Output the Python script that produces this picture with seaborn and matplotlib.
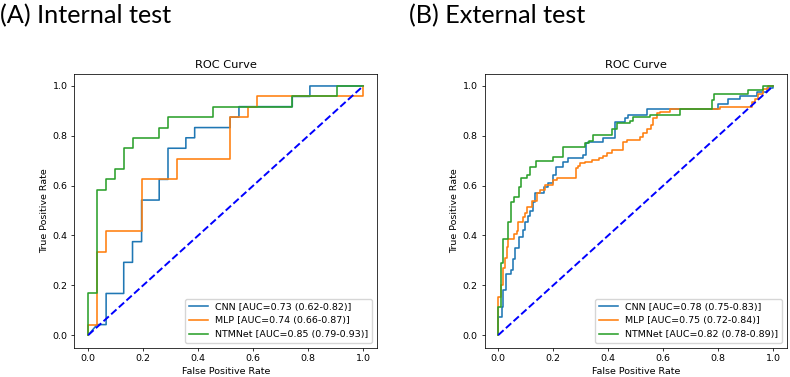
import pandas as pd
import matplotlib
matplotlib.use("Agg")
import matplotlib.pyplot as plt
import seaborn as sns

# internal test ROC vertices
int_cnn_fpr = [0.0, 0.032, 0.065, 0.065, 0.129, 0.129, 0.161, 0.161, 0.194, 0.194, 0.258, 0.258, 0.290, 0.290,
               0.355, 0.355, 0.387, 0.387, 0.516, 0.516, 0.548, 0.548, 0.742, 0.742, 0.806, 0.806, 1.0]
int_cnn_tpr = [0.0, 0.042, 0.042, 0.167, 0.167, 0.292, 0.292, 0.375, 0.375, 0.542, 0.542, 0.625, 0.625, 0.750,
               0.750, 0.792, 0.792, 0.833, 0.833, 0.875, 0.875, 0.917, 0.917, 0.958, 0.958, 1.0, 1.0]
int_mlp_fpr = [0.0, 0.0, 0.032, 0.032, 0.065, 0.065, 0.194, 0.194, 0.323, 0.323, 0.516, 0.516, 0.581, 0.581,
               0.613, 0.613, 1.0, 1.0]
int_mlp_tpr = [0.0, 0.042, 0.042, 0.333, 0.333, 0.417, 0.417, 0.625, 0.625, 0.708, 0.708, 0.875, 0.875, 0.917,
               0.917, 0.958, 0.958, 1.0]
int_ntm_fpr = [0.0, 0.0, 0.032, 0.032, 0.065, 0.065, 0.097, 0.097, 0.129, 0.129, 0.161, 0.161, 0.258, 0.258,
               0.290, 0.290, 0.452, 0.452, 0.742, 0.742, 0.903, 0.903, 1.0]
int_ntm_tpr = [0.0, 0.167, 0.167, 0.583, 0.583, 0.625, 0.625, 0.667, 0.667, 0.750, 0.750, 0.792, 0.792, 0.833,
               0.833, 0.875, 0.875, 0.917, 0.917, 0.958, 0.958, 1.0, 1.0]

# external test ROC vertices
ext_cnn_fpr = [0.0, 0.0, 0.012, 0.012, 0.019, 0.019, 0.029, 0.029, 0.046, 0.046, 0.053, 0.053, 0.062, 0.062,
               0.074, 0.074, 0.089, 0.089, 0.098, 0.098, 0.107, 0.107, 0.114, 0.114, 0.128, 0.128, 0.134, 0.134,
               0.165, 0.165, 0.18, 0.18, 0.2, 0.2, 0.21, 0.21, 0.236, 0.236, 0.255, 0.255, 0.309, 0.309,
               0.319, 0.319, 0.327, 0.327, 0.382, 0.382, 0.424, 0.424, 0.46, 0.46, 0.473, 0.473, 0.54, 0.54,
               0.8, 0.8, 0.836, 0.836, 0.879, 0.879, 0.94, 0.94, 0.976, 0.976, 1.0, 1.0]
ext_cnn_tpr = [0.0, 0.074, 0.074, 0.114, 0.114, 0.18, 0.18, 0.244, 0.244, 0.26, 0.26, 0.304, 0.304, 0.348,
               0.348, 0.395, 0.395, 0.42, 0.42, 0.455, 0.455, 0.478, 0.478, 0.498, 0.498, 0.535, 0.535, 0.569,
               0.569, 0.596, 0.596, 0.61, 0.61, 0.643, 0.643, 0.676, 0.676, 0.696, 0.696, 0.71, 0.71, 0.723,
               0.723, 0.77, 0.77, 0.776, 0.776, 0.79, 0.79, 0.857, 0.857, 0.87, 0.87, 0.884, 0.884, 0.906,
               0.906, 0.926, 0.926, 0.947, 0.947, 0.96, 0.96, 0.976, 0.976, 0.99, 0.99, 1.0]
ext_mlp_fpr = [0.0, 0.0, 0.009, 0.009, 0.016, 0.016, 0.024, 0.024, 0.031, 0.031, 0.036, 0.036, 0.057, 0.057,
               0.067, 0.067, 0.073, 0.073, 0.089, 0.089, 0.098, 0.098, 0.103, 0.103, 0.121, 0.121, 0.14, 0.14,
               0.152, 0.152, 0.17, 0.17, 0.2, 0.2, 0.215, 0.215, 0.283, 0.283, 0.291, 0.291, 0.297, 0.297,
               0.315, 0.315, 0.34, 0.34, 0.367, 0.367, 0.38, 0.38, 0.394, 0.394, 0.412, 0.412, 0.455, 0.455,
               0.467, 0.467, 0.515, 0.515, 0.525, 0.525, 0.54, 0.54, 0.554, 0.554, 0.564, 0.564, 0.576, 0.576,
               0.588, 0.588, 0.624, 0.624, 0.806, 0.806, 0.921, 0.921, 0.934, 0.934, 0.946, 0.946, 0.964, 0.964,
               0.982, 0.982, 1.0]
ext_mlp_tpr = [0.0, 0.154, 0.154, 0.2, 0.2, 0.268, 0.268, 0.308, 0.308, 0.355, 0.355, 0.384, 0.384, 0.406,
               0.406, 0.419, 0.419, 0.455, 0.455, 0.475, 0.475, 0.489, 0.489, 0.515, 0.515, 0.539, 0.539, 0.571,
               0.571, 0.582, 0.582, 0.602, 0.602, 0.622, 0.622, 0.629, 0.629, 0.669, 0.669, 0.679, 0.679, 0.69,
               0.69, 0.696, 0.696, 0.703, 0.703, 0.71, 0.71, 0.719, 0.719, 0.73, 0.73, 0.743, 0.743, 0.776,
               0.776, 0.783, 0.783, 0.794, 0.794, 0.81, 0.81, 0.826, 0.826, 0.843, 0.843, 0.87, 0.87, 0.89,
               0.89, 0.897, 0.897, 0.906, 0.906, 0.917, 0.917, 0.936, 0.936, 0.949, 0.949, 0.966, 0.966, 0.986,
               0.986, 1.0, 1.0]
ext_ntm_fpr = [0.0, 0.0, 0.01, 0.01, 0.019, 0.019, 0.037, 0.037, 0.046, 0.046, 0.056, 0.056, 0.074, 0.074,
               0.084, 0.084, 0.103, 0.103, 0.115, 0.115, 0.139, 0.139, 0.2, 0.2, 0.236, 0.236, 0.315, 0.315,
               0.331, 0.331, 0.346, 0.346, 0.412, 0.412, 0.43, 0.43, 0.479, 0.479, 0.491, 0.491, 0.552, 0.552,
               0.66, 0.66, 0.776, 0.776, 0.783, 0.783, 0.909, 0.909, 0.964, 0.964, 1.0]
ext_ntm_tpr = [0.0, 0.114, 0.114, 0.288, 0.288, 0.384, 0.384, 0.455, 0.455, 0.535, 0.535, 0.556, 0.556, 0.593,
               0.593, 0.63, 0.63, 0.643, 0.643, 0.676, 0.676, 0.70, 0.70, 0.713, 0.713, 0.756, 0.756, 0.77,
               0.77, 0.78, 0.78, 0.803, 0.803, 0.826, 0.826, 0.85, 0.85, 0.861, 0.861, 0.877, 0.877, 0.884,
               0.884, 0.906, 0.906, 0.943, 0.943, 0.967, 0.967, 0.984, 0.984, 1.0, 1.0]

int_labels = ['CNN [AUC=0.73 (0.62-0.82)]', 'MLP [AUC=0.74 (0.66-0.87)]', 'NTMNet [AUC=0.85 (0.79-0.93)]']
ext_labels = ['CNN [AUC=0.78 (0.75-0.83)]', 'MLP [AUC=0.75 (0.72-0.84)]', 'NTMNet [AUC=0.82 (0.78-0.89)]']
colors = ['#1f77b4', '#ff7f0e', '#2ca02c']

fs = 6.8
plt.rcParams.update({
    'axes.linewidth': 0.55,
    'xtick.major.size': 2.4, 'ytick.major.size': 2.4,
    'xtick.major.width': 0.55, 'ytick.major.width': 0.55,
    'xtick.major.pad': 2.4, 'ytick.major.pad': 2.4,
    'xtick.labelsize': fs, 'ytick.labelsize': fs,
    'legend.fontsize': fs,
})


def draw_roc(ax, curves, labels):
    frames = []
    for (fpr, tpr), lab in zip(curves, labels):
        frames.append(pd.DataFrame({'fpr': fpr, 'tpr': tpr, 'model': lab}))
    df = pd.concat(frames, ignore_index=True)
    sns.lineplot(data=df, x='fpr', y='tpr', hue='model', palette=colors, sort=False,
                 estimator=None, lw=1.15, ax=ax)
    ax.plot([0, 1], [0, 1], 'b--', lw=1.4)
    ax.set_title('ROC Curve', fontsize=8.2, pad=4.1)
    ax.set_xlabel('False Positive Rate', fontsize=fs, labelpad=2.7)
    ax.set_ylabel('True Positive Rate', fontsize=fs, labelpad=2.7)
    h, l = ax.get_legend_handles_labels()
    ax.legend(h, l, loc='lower right', fontsize=fs)


fig = plt.figure(figsize=(7.9, 3.77), dpi=100)
ax1 = fig.add_axes([0.0943, 0.0782, 0.3829, 0.7268])
ax2 = fig.add_axes([0.6133, 0.0782, 0.3829, 0.7268])

draw_roc(ax1, [(int_cnn_fpr, int_cnn_tpr), (int_mlp_fpr, int_mlp_tpr), (int_ntm_fpr, int_ntm_tpr)], int_labels)
draw_roc(ax2, [(ext_cnn_fpr, ext_cnn_tpr), (ext_mlp_fpr, ext_mlp_tpr), (ext_ntm_fpr, ext_ntm_tpr)], ext_labels)

fig.text(0.0, 0.939, '(A) Internal test', fontsize=18.2, family='Lato', va='baseline')
fig.text(0.5177, 0.939, '(B) External test', fontsize=18.2, family='Lato', va='baseline')

fig.savefig('out.png', dpi=100)
